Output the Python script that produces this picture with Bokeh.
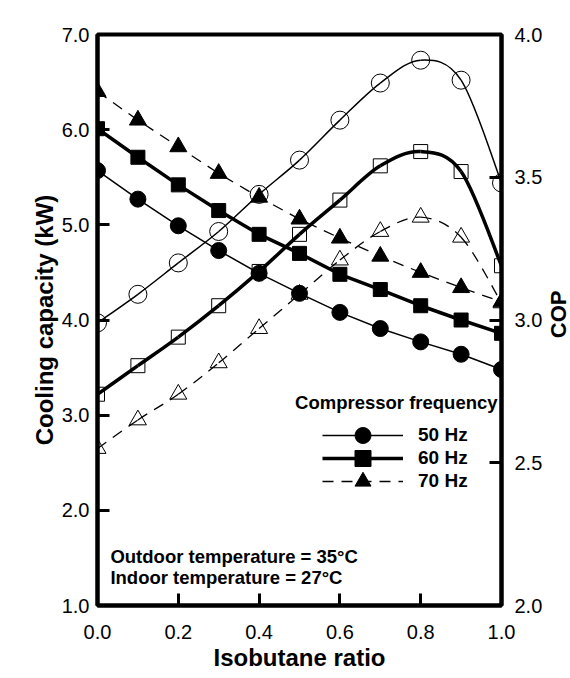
import math
from bokeh.plotting import figure
from bokeh.layouts import row
from bokeh.models import (Range1d, LinearAxis, FixedTicker, PrintfTickFormatter,
                          Label, Legend, LegendItem)
from bokeh.core.properties import value
from bokeh.embed import file_html
from bokeh.resources import INLINE

# ---------------- data ----------------
ratio = [0.0, 0.1, 0.2, 0.3, 0.4, 0.5, 0.6, 0.7, 0.8, 0.9, 1.0]

cap_50 = [5.57, 5.27, 4.99, 4.73, 4.49, 4.28, 4.08, 3.91, 3.77, 3.64, 3.48]
cap_60 = [6.01, 5.71, 5.42, 5.15, 4.90, 4.70, 4.48, 4.32, 4.15, 4.00, 3.86]
cap_70 = [6.40, 6.10, 5.82, 5.54, 5.29, 5.06, 4.86, 4.67, 4.50, 4.34, 4.19]

cop_50 = [2.99, 3.09, 3.20, 3.31, 3.44, 3.56, 3.70, 3.83, 3.91, 3.84, 3.48]
cop_60 = [2.74, 2.84, 2.94, 3.05, 3.17, 3.30, 3.42, 3.54, 3.59, 3.52, 3.19]
cop_70 = [2.55, 2.65, 2.74, 2.85, 2.97, 3.09, 3.21, 3.31, 3.36, 3.29, 3.06]

series_labels = ["50 Hz", "60 Hz", "70 Hz"]
x_ticks = [0.0, 0.2, 0.4, 0.6, 0.8, 1.0]
cap_ticks = [1.0, 2.0, 3.0, 4.0, 5.0, 6.0, 7.0]
cop_ticks = [2.0, 2.5, 3.0, 3.5, 4.0]

FONT = "Liberation Sans"
TOP, BOTTOM = 34, 71


def smooth_segments(xs, ys):
    """Catmull-Rom curve through the data points, as cubic Bezier segments."""
    n = len(xs)
    out = dict(x0=[], y0=[], x1=[], y1=[], cx0=[], cy0=[], cx1=[], cy1=[])
    for i in range(n - 1):
        a, b = max(i - 1, 0), min(i + 2, n - 1)
        out["x0"].append(xs[i]); out["y0"].append(ys[i])
        out["x1"].append(xs[i + 1]); out["y1"].append(ys[i + 1])
        out["cx0"].append(xs[i] + (xs[i + 1] - xs[a]) / 6)
        out["cy0"].append(ys[i] + (ys[i + 1] - ys[a]) / 6)
        out["cx1"].append(xs[i + 1] - (xs[b] - xs[i]) / 6)
        out["cy1"].append(ys[i + 1] - (ys[b] - ys[i]) / 6)
    return out


p = figure(width=546, height=676, x_range=Range1d(0, 1), y_range=Range1d(1, 7),
           output_backend="svg", toolbar_location=None,
           min_border_left=97, min_border_right=45, min_border_top=TOP,
           min_border_bottom=BOTTOM)
p.extra_y_ranges = {"cop": Range1d(2, 4)}
p.xgrid.visible = False
p.ygrid.visible = False
p.outline_line_color = "black"
p.outline_line_width = 4
p.background_fill_color = "white"
p.border_fill_color = "white"

ax_r = LinearAxis(y_range_name="cop")
p.add_layout(ax_r, "right")

p.xaxis.ticker = FixedTicker(ticks=x_ticks)
p.yaxis[0].ticker = FixedTicker(ticks=cap_ticks)
ax_r.ticker = FixedTicker(ticks=cop_ticks)

for ax in [p.xaxis[0], p.yaxis[0], ax_r]:
    ax.formatter = PrintfTickFormatter(format="%.1f")
    ax.axis_line_width = 4
    ax.axis_line_color = "black"
    ax.major_tick_line_width = 3
    ax.major_tick_line_color = "black"
    ax.major_tick_in = 12
    ax.major_tick_out = 0
    ax.minor_tick_line_color = None
    ax.major_label_text_font = FONT
    ax.major_label_text_font_size = "20px"
    ax.major_label_text_color = "black"
    ax.axis_label_text_font = FONT
    ax.axis_label_text_font_style = "bold"
    ax.axis_label_text_color = "black"

p.xaxis[0].major_label_standoff = 19
p.yaxis[0].major_label_standoff = 8
ax_r.major_label_standoff = 13

p.xaxis[0].axis_label = "Isobutane ratio"
p.xaxis[0].axis_label_text_font_size = "24px"
p.xaxis[0].axis_label_standoff = 2
p.yaxis[0].axis_label = "Cooling capacity (kW)"
p.yaxis[0].axis_label_text_font_size = "24px"
p.yaxis[0].axis_label_standoff = 1

styles = [dict(line_width=1.5, line_dash="solid"),
          dict(line_width=3.5, line_dash="solid"),
          dict(line_width=1.3, line_dash="11 8")]
markers = ["circle", "square", "triangle"]
filled_sizes = [16, 14, 17]
open_sizes = [18, 14, 17]

# COP curves (open markers, right axis)
for cop, st, mk, sz in zip([cop_50, cop_60, cop_70], styles, markers, open_sizes):
    p.bezier(line_color="black", y_range_name="cop", **smooth_segments(ratio, cop), **st)
    p.scatter(ratio, cop, marker=mk, size=sz, fill_color=None, line_color="black",
              line_width=1, y_range_name="cop")

# Cooling capacity curves (filled markers, left axis)
legend_bottoms = [150, 127, 104]
for cap, st, mk, sz, lab, lb in zip([cap_50, cap_60, cap_70], styles, markers,
                                    filled_sizes, series_labels, legend_bottoms):
    l = p.line(ratio, cap, line_color="black", **st)
    s = p.scatter(ratio, cap, marker=mk, size=sz, fill_color="black", line_color="black")
    leg = Legend(items=[LegendItem(label=lab, renderers=[l, s])], location=(225, lb),
                 glyph_width=81, glyph_height=40, label_height=40, spacing=0,
                 padding=0, margin=0, border_line_color=None, background_fill_alpha=0,
                 label_standoff=15, label_text_font=FONT, label_text_font_style="bold",
                 label_text_font_size="19px", label_text_color="black")
    p.add_layout(leg)

p.add_layout(Label(x=0.489, y=3.13, text="Compressor frequency", text_font=FONT,
                   text_font_style="bold", text_font_size="18.5px", text_align="left",
                   text_baseline="middle", text_color="black"))
p.add_layout(Label(x=0.032, y=1.52, text="Outdoor temperature = 35°C", text_font=FONT,
                   text_font_style="bold", text_font_size="18.5px", text_align="left",
                   text_baseline="middle", text_color="black"))
p.add_layout(Label(x=0.032, y=1.29, text="Indoor temperature = 27°C", text_font=FONT,
                   text_font_style="bold", text_font_size="18.5px", text_align="left",
                   text_baseline="middle", text_color="black"))

# right-hand axis title "COP" (reads bottom to top), in a narrow strip next to the plot
q = figure(width=24, height=676, x_range=Range1d(0, 1), y_range=Range1d(2, 4),
           output_backend="svg", toolbar_location=None,
           x_axis_location=None, y_axis_location=None,
           min_border_left=0, min_border_right=0, min_border_top=TOP,
           min_border_bottom=BOTTOM)
q.xgrid.visible = False
q.ygrid.visible = False
q.outline_line_color = None
q.background_fill_color = "white"
q.border_fill_color = "white"
q.text(x=[0.5], y=[3.02], text=["COP"], angle=math.pi / 2, text_align="center",
       text_baseline="middle", text_font=value(FONT), text_font_style="bold",
       text_font_size="22px", text_color="black")

layout = row(p, q, spacing=0)
open("out.html", "w").write(file_html(layout, INLINE))
